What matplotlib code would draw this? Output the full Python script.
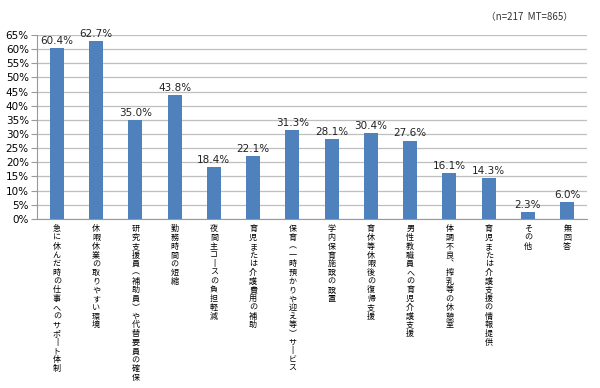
import matplotlib
matplotlib.use("Agg")
import matplotlib.pyplot as plt
from matplotlib.ticker import PercentFormatter

plt.rcParams['font.family'] = ['Noto Sans CJK JP', 'DejaVu Sans']

# data
items = [
    "急に休んだ時の仕事へのサポート体制",
    "休暇休業の取りやすい環境",
    "研究支援員（補助員）や代替要員の確保",
    "勤務時間の短縮",
    "夜間主コースの負担軽減",
    "育児または介護費用の補助",
    "保育（一時預かりや迎え等）サービス",
    "学内保育施設の設置",
    "育休等休暇後の復帰支援",
    "男性教職員への育児介護支援",
    "体調不良、搾乳等の休憩室",
    "育児または介護支援の情報提供",
    "その他",
    "無回答",
]
values = [60.4, 62.7, 35.0, 43.8, 18.4, 22.1, 31.3, 28.1, 30.4, 27.6, 16.1, 14.3, 2.3, 6.0]
yticks = list(range(0, 70, 5))
note = "（n=217  MT=865）"

# vertical writing: one character per line, brackets swapped for vertical forms
vert_map = {"（": "︵", "）": "︶", "ー": "丨", "、": "︑"}


def vertical(s):
    return "\n".join(vert_map.get(c, c) for c in s)


fig = plt.figure(figsize=(6, 3.88), dpi=100)
ax = fig.add_axes([0.062, 0.436, 0.916, 0.474])

x = range(len(values))
bars = ax.bar(x, values, width=0.36, color="#4F81BD", zorder=3)
for b, v in zip(bars, values):
    ax.text(b.get_x() + b.get_width() / 2, v + 0.8, f"{v:.1f}%",
            ha="center", va="bottom", fontsize=7.5, color="#222222",
            family="DejaVu Sans")

ax.set_ylim(0, 65)
ax.set_xlim(-0.5, len(values) - 0.5)
ax.set_yticks(yticks)
ax.yaxis.set_major_formatter(PercentFormatter(decimals=0))
ax.tick_params(axis="y", labelsize=7.5, length=4, color="#999999", pad=2)
for lab in ax.get_yticklabels():
    lab.set_family("DejaVu Sans")
ax.set_xticks(list(x))
ax.set_xticklabels([vertical(s) for s in items], fontsize=5.8,
                   linespacing=0.96, va="top")
ax.tick_params(axis="x", length=0, pad=4)

ax.grid(axis="y", color="#BFBFBF", linewidth=0.9, zorder=0)
for side in ["top", "right"]:
    ax.spines[side].set_visible(False)
ax.spines["left"].set_color("#999999")
ax.spines["bottom"].set_color("#999999")

fig.text(0.955, 0.955, note, ha="right", va="center", fontsize=7, color="#333333")

fig.savefig("out.png", dpi=100)
